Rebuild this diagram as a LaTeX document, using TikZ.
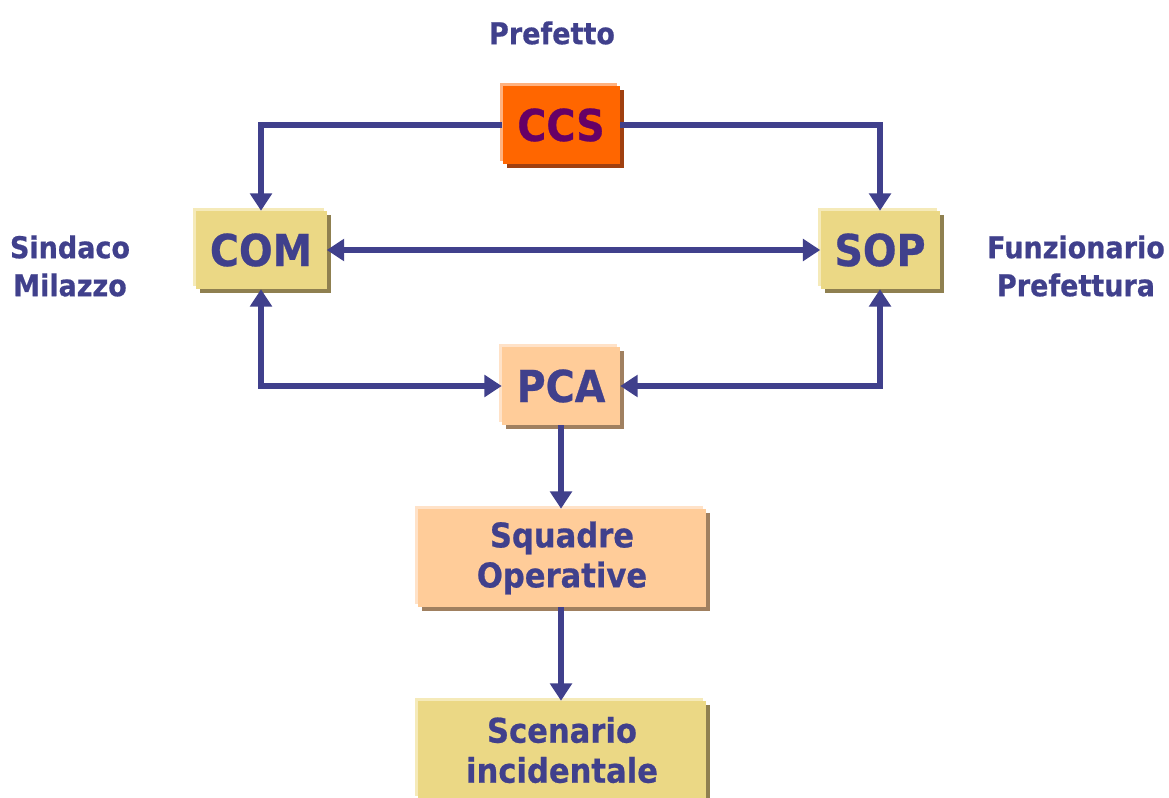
\documentclass[tikz,border=0pt]{standalone}
\usepackage{fontspec}
\setmainfont{DejaVu Sans}[FakeStretch=0.9, BoldFeatures={FakeBold=0.6}]
\usetikzlibrary{arrows.meta,shadows}
\definecolor{navy}{RGB}{64,64,140}
\definecolor{ccsfill}{RGB}{255,102,0}
\definecolor{ccshl}{RGB}{255,178,128}
\definecolor{ccssh}{RGB}{160,64,16}
\definecolor{ccstext}{RGB}{102,0,102}
\definecolor{khfill}{RGB}{235,216,133}
\definecolor{khhl}{RGB}{245,234,185}
\definecolor{khsh}{RGB}{143,128,80}
\definecolor{pcfill}{RGB}{255,204,153}
\definecolor{pchl}{RGB}{255,226,200}
\definecolor{pcsh}{RGB}{160,128,96}
\tikzset{
  basebox/.style={inner sep=0pt, align=center, text=navy, font=\bfseries\fontsize{33}{36}\selectfont},
  boxshade/.style n args={3}{fill=#1,
    general shadow={fill=#3, shadow xshift=3pt, shadow yshift=-3pt},
    general shadow={fill=#2, shadow xshift=-2.25pt, shadow yshift=2.25pt}},
  ccsbox/.style={basebox, boxshade={ccsfill}{ccshl}{ccssh}, text=ccstext},
  khbox/.style={basebox, boxshade={khfill}{khhl}{khsh}},
  pcbox/.style={basebox, boxshade={pcfill}{pchl}{pcsh}},
  bigtext/.style={font=\bfseries\fontsize{25.5}{30}\selectfont},
  lbl/.style={text=navy, align=center, font=\bfseries\fontsize{22.5}{28.5}\selectfont},
  tip/.tip={Triangle[length=13pt,width=16pt]},
  conn/.style={draw=navy, line width=4pt, -tip},
  conn2/.style={draw=navy, line width=4pt, tip-tip}
}
\begin{document}
\begin{tikzpicture}[x=0.75pt,y=-0.75pt]
\clip (0,0) rectangle (1169,798);
\fill[white] (0,0) rectangle (1169,798);
\node[ccsbox, minimum width=117*0.75pt, minimum height=78*0.75pt] (ccs) at (561,125) {CCS};
\node[khbox, minimum width=131*0.75pt, minimum height=78*0.75pt] (com) at (261,250) {COM};
\node[khbox, minimum width=119*0.75pt, minimum height=78*0.75pt] (sop) at (880,250) {SOP};
\node[pcbox, minimum width=118*0.75pt, minimum height=78*0.75pt] (pca) at (561,386) {PCA};
\node[pcbox, bigtext, minimum width=288*0.75pt, minimum height=98*0.75pt] (sq) at (562,558) {Squadre\\Operative};
\node[khbox, bigtext, minimum width=288*0.75pt, minimum height=98*0.75pt] (sc) at (562,750) {Scenario\\incidentale};
\node[lbl] (pref) at (552,33) {Prefetto};
\node[lbl] (sind) at (70,266) {Sindaco\\Milazzo};
\node[lbl] (funz) at (1076,266) {Funzionario\\Prefettura};
\draw[conn] (ccs.west) -| (com.north);
\draw[conn] (ccs.east) -| (sop.north);
\draw[conn2] (com.east) -- (sop.west);
\draw[conn2] (com.south) |- (pca.west);
\draw[conn2] (sop.south) |- (pca.east);
\draw[conn] (pca.south) -- (pca.south |- sq.north);
\draw[conn] (pca.south |- sq.south) -- (pca.south |- sc.north);
\end{tikzpicture}
\end{document}
